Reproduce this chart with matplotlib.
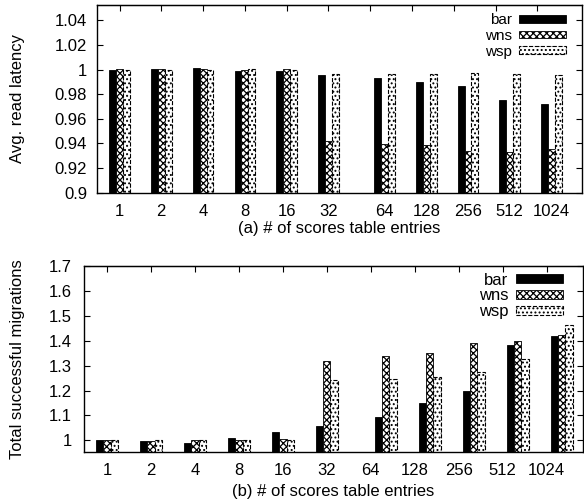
import matplotlib
matplotlib.use('Agg')
import matplotlib.pyplot as plt
import numpy as np

plt.rcParams['font.family'] = ['Liberation Sans', 'DejaVu Sans']
plt.rcParams['font.size'] = 12
plt.rcParams['hatch.linewidth'] = 0.9

entries = ['1', '2', '4', '8', '16', '32', '64', '128', '256', '512', '1024']

# (a) average read latency
lat_bar = [0.9997, 1.0005, 1.0013, 0.9992, 0.9987, 0.996, 0.9933, 0.9899, 0.9867, 0.9755, 0.972]
lat_wns = [1.0005, 1.0005, 1.0005, 0.9997, 1.0005, 0.9419, 0.9395, 0.9387, 0.9341, 0.9333, 0.9357]
lat_wsp = [1.0, 1.0, 1.0, 1.0003, 1.0, 0.9965, 0.9965, 0.9965, 0.997, 0.9965, 0.996]

# (b) total successful migrations
mig_bar = [1.0, 0.996, 0.989, 1.009, 1.033, 1.056, 1.092, 1.149, 1.2, 1.384, 1.42]
mig_wns = [1.003, 0.999, 1.003, 1.003, 1.007, 1.32, 1.339, 1.351, 1.391, 1.399, 1.423]
mig_wsp = [1.003, 1.003, 1.003, 1.003, 1.003, 1.243, 1.247, 1.256, 1.275, 1.325, 1.464]

# groups from 64 on sit a bit further right
x = np.arange(len(entries)) + np.where(np.arange(len(entries)) > 5, 0.34, 0.0)
w = 0.165

fig = plt.figure(figsize=(5.84, 5.04), dpi=100)
ax1 = fig.add_axes([0.166, 0.618, 0.830, 0.372])
ax2 = fig.add_axes([0.144, 0.103, 0.854, 0.369])


def draw(ax, vb, vn, vp, anchor, spacing, hh, fs):
    ax.bar(x - w, vb, w, color='black', edgecolor='black', linewidth=0.6, label='bar')
    ax.bar(x, vn, w, color='white', edgecolor='black', hatch='xxxxx', linewidth=0.6, label='wns')
    ax.bar(x + w, vp, w, color='white', edgecolor='black', hatch='....', linewidth=0.8,
           linestyle='--', label='wsp')
    ax.tick_params(axis='y', direction='in', length=4, right=True, pad=7)
    ax.tick_params(axis='x', direction='in', length=0, top=False, bottom=False, pad=8)
    for s in ax.spines.values():
        s.set_linewidth(1.0)
    top = ax.secondary_xaxis('top')
    top.set_xticks(np.arange(len(entries)))
    top.tick_params(direction='in', length=4, labeltop=False)
    ax.legend(loc='upper right', bbox_to_anchor=anchor, markerfirst=False, frameon=False,
              handlelength=47 / (fs * 100 / 72), handleheight=hh, labelspacing=spacing,
              handletextpad=0.5, borderpad=0, borderaxespad=0, fontsize=fs)


draw(ax1, lat_bar, lat_wns, lat_wsp, (0.9685, 0.955), 0.1, 0.35, 11)
ax1.set_ylim(0.9, 1.0525)
ax1.set_xlim(-0.54, 11.06)
ax1.set_yticks([0.9, 0.92, 0.94, 0.96, 0.98, 1.0, 1.02, 1.04])
ax1.set_yticklabels(['0.9', '0.92', '0.94', '0.96', '0.98', '1', '1.02', '1.04'])
ax1.set_xticks(x)
ax1.set_xticklabels(entries)
ax1.set_ylabel('Avg. read latency')
ax1.yaxis.set_label_coords(-0.148, 0.5)
ax1.set_xlabel('(a) # of scores table entries', va='center')
ax1.xaxis.set_label_coords(0.5, -0.193)

draw(ax2, mig_bar, mig_wns, mig_wsp, (0.961, 0.965), 0.05, 0.4, 12)
ax2.set_ylim(0.953, 1.7)
ax2.set_xlim(-0.52, 10.82)
ax2.set_yticks([1.0, 1.1, 1.2, 1.3, 1.4, 1.5, 1.6, 1.7])
ax2.set_yticklabels(['1', '1.1', '1.2', '1.3', '1.4', '1.5', '1.6', '1.7'])
ax2.tick_params(axis='y', pad=9)
ax2.set_xticks(np.arange(len(entries)))
ax2.set_xticklabels(entries)
ax2.set_ylabel('Total successful migrations')
ax2.yaxis.set_label_coords(-0.119, 0.5)
ax2.set_xlabel('(b) # of scores table entries', va='center')
ax2.xaxis.set_label_coords(0.5, -0.213)

fig.savefig('out.png', dpi=100)
